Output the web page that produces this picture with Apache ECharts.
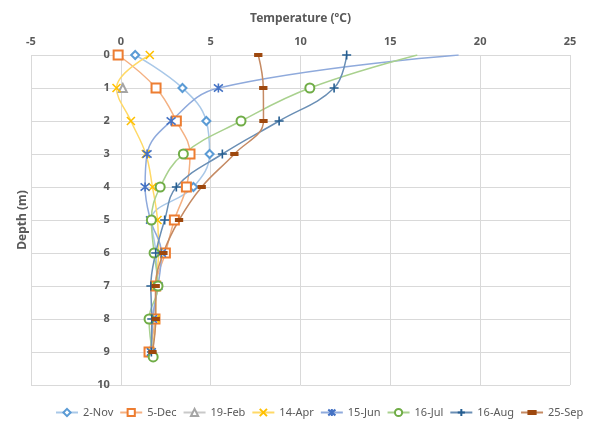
<!DOCTYPE html>
<html>
<head>
<meta charset="utf-8">
<title>Temperature profiles</title>
<script src="https://cdn.jsdelivr.net/npm/echarts@6/dist/echarts.min.js"></script>
<style>
  html, body { margin: 0; padding: 0; background: #fff; }
  #chart { width: 615px; height: 429px; }
</style>
</head>
<body>
<div id="chart"></div>
<script>
// depth (m) of each reading
var depths = [0, 1, 2, 3, 4, 5, 6, 7, 8, 9];
var depthsJul = [0, 1, 2, 3, 4, 5, 6, 7, 8, 9.15];
var depthsFeb = [1];

// temperature (ºC) per survey
var nov2  = [0.8, 3.43, 4.76, 4.94, 4.04, 1.7, 1.95, 2.0, 1.8, 1.7];
var dec5  = [-0.15, 1.96, 3.09, 3.85, 3.65, 2.98, 2.48, 1.94, 1.9, 1.57];
var feb19 = [0.11];
var apr14 = [1.61, -0.24, 0.56, 1.39, 1.76, 2.04, 2.1, 1.95, 1.94, 1.7];
var jun15 = [18.8, 5.43, 2.8, 1.46, 1.35, 1.65, 2.26, 2.07, 1.76, 1.7];
var jul16 = [16.5, 10.52, 6.69, 3.48, 2.19, 1.7, 1.85, 2.07, 1.57, 1.8];
var aug16 = [12.57, 11.87, 8.81, 5.65, 3.09, 2.44, 1.94, 1.67, 1.72, 1.7];
var sep25 = [7.65, 7.93, 7.94, 6.32, 4.5, 3.24, 2.37, 1.94, 1.94, 1.76];

var tempTicks = [-5, 0, 5, 10, 15, 20, 25];
var depthTicks = [0, 1, 2, 3, 4, 5, 6, 7, 8, 9, 10];

// surface points of Jun/Jul have no visible marker
var hideFirst = { '15-Jun': true, '16-Jul': true };

var XMARK = 'path://M0,0L10,10M10,0L0,10';
var PLUS = 'path://M5,0L5,10M0,5L10,5';
var STAR = 'path://M1,1L9,9M9,1L1,9M5,0L5,10';
// flat dash inside a square box, so it stays flat in the legend too
var DASH = 'path://M0,0M0,3H10V7H0ZM10,10';

var gridLeft = 31, gridRight = 45;
// the depth axis crosses the temperature axis at 0
var plotW = 615 - gridLeft - gridRight;
var zeroShift = plotW * (0 - tempTicks[0]) / (tempTicks[tempTicks.length - 1] - tempTicks[0]);

function pairs(name, temps, ds) {
  var out = [];
  for (var i = 0; i < temps.length; i++) {
    var item = { value: [temps[i], ds[i]] };
    if (i === 0 && hideFirst[name]) item.symbol = 'none';
    out.push(item);
  }
  return out;
}

function makeSeries(name, temps, ds, color, lineColor, symbol, size, strokeSym) {
  return {
    name: name,
    type: 'line',
    smooth: 0.4,
    data: pairs(name, temps, ds),
    symbol: symbol,
    symbolSize: size,
    showAllSymbol: true,
    color: color,
    lineStyle: { color: lineColor, width: 1.5 },
    itemStyle: { color: color, borderColor: color, borderWidth: strokeSym ? 1.6 : 1.3 },
    emphasis: { disabled: true },
    z: 2
  };
}

var chart = echarts.init(document.getElementById('chart'));

var option = {
  animation: false,
  textStyle: { fontFamily: 'Noto Sans' },
  grid: { left: gridLeft, right: gridRight, top: 55, bottom: 44, containLabel: false, outerBoundsMode: 'none' },
  legend: {
    bottom: 6,
    left: 50,
    width: 565,
    itemWidth: 22,
    itemHeight: 9,
    itemGap: 6,
    textStyle: { color: '#595959', fontSize: 11 },
    data: ['2-Nov', '5-Dec', '19-Feb', '14-Apr', '15-Jun', '16-Jul', '16-Aug', '25-Sep']
  },
  xAxis: {
    type: 'value',
    position: 'top',
    min: tempTicks[0],
    max: tempTicks[tempTicks.length - 1],
    interval: 5,
    name: 'Temperature (ºC)',
    nameLocation: 'middle',
    nameGap: 30,
    nameTextStyle: { color: '#595959', fontSize: 12, fontWeight: 'bold' },
    axisLine: { show: false, onZero: false },
    axisTick: { show: false },
    axisLabel: { color: '#595959', fontSize: 11, fontWeight: 'bold', margin: 8 },
    splitLine: { lineStyle: { color: '#d9d9d9' } }
  },
  yAxis: {
    type: 'value',
    inverse: true,
    min: depthTicks[0],
    max: depthTicks[depthTicks.length - 1],
    interval: 1,
    offset: -zeroShift,
    name: 'Depth (m)',
    nameLocation: 'middle',
    nameRotate: 90,
    nameGap: 92,
    nameTextStyle: { color: '#595959', fontSize: 12, fontWeight: 'bold' },
    axisLine: { show: true, onZero: false, lineStyle: { color: '#d9d9d9' } },
    axisTick: { show: false },
    axisLabel: { color: '#595959', fontSize: 11, fontWeight: 'bold', margin: 11 },
    splitLine: { lineStyle: { color: '#d9d9d9' } }
  },
  series: [
    makeSeries('2-Nov', nov2, depths, '#5b9bd5', '#a9c8e8', 'emptyDiamond', 8, false),
    makeSeries('5-Dec', dec5, depths, '#ed7d31', '#f4b183', 'emptyRect', 9, false),
    makeSeries('19-Feb', feb19, depthsFeb, '#a5a5a5', '#c9c9c9', 'emptyTriangle', 8, false),
    makeSeries('14-Apr', apr14, depths, '#ffc000', '#ffd966', XMARK, 8, true),
    makeSeries('15-Jun', jun15, depths, '#4472c4', '#8faadc', STAR, 9, true),
    makeSeries('16-Jul', jul16, depthsJul, '#70ad47', '#a9d18e', 'emptyCircle', 9, false),
    makeSeries('16-Aug', aug16, depths, '#255e91', '#6a8fb5', PLUS, 9, true),
    makeSeries('25-Sep', sep25, depths, '#9e480e', '#c58a63', DASH, 7, false)
  ]
};

chart.setOption(option);
</script>
</body>
</html>
